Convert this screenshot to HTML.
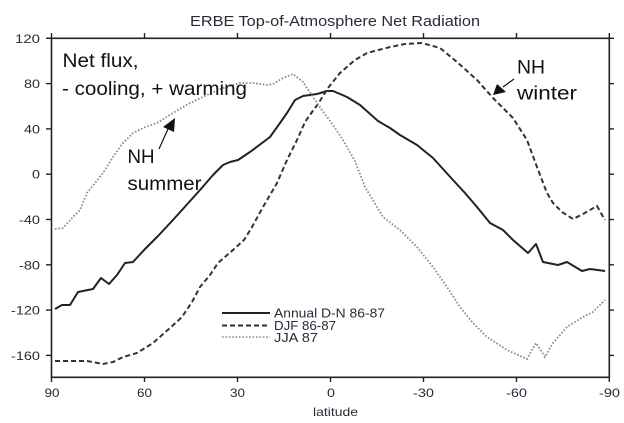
<!DOCTYPE html>
<html><head><meta charset="utf-8"><style>
html,body{margin:0;padding:0;background:#fff;}
svg{display:block;}
</style></head><body>
<svg width="624" height="423" viewBox="0 0 624 423" xmlns="http://www.w3.org/2000/svg">
<rect width="624" height="423" fill="#fff"/>
<g font-family="Liberation Sans, Arial, sans-serif" fill="#2a2a3a">
<text x="190" y="26" font-size="15" textLength="290" lengthAdjust="spacingAndGlyphs">ERBE Top-of-Atmosphere Net Radiation</text>
</g>
<!-- frame -->
<rect x="51.5" y="38.3" width="557.8" height="339" fill="none" stroke="#222" stroke-width="1.6"/>
<g stroke="#222" stroke-width="1.4">
<line x1="46" y1="38.3" x2="51" y2="38.3"/><line x1="46" y1="83.6" x2="51" y2="83.6"/><line x1="46" y1="128.9" x2="51" y2="128.9"/><line x1="46" y1="174.2" x2="51" y2="174.2"/><line x1="46" y1="219.5" x2="51" y2="219.5"/><line x1="46" y1="264.8" x2="51" y2="264.8"/><line x1="46" y1="310.1" x2="51" y2="310.1"/><line x1="46" y1="355.4" x2="51" y2="355.4"/>
<line x1="609" y1="38.3" x2="614" y2="38.3"/><line x1="609" y1="83.6" x2="614" y2="83.6"/><line x1="609" y1="128.9" x2="614" y2="128.9"/><line x1="609" y1="174.2" x2="614" y2="174.2"/><line x1="609" y1="219.5" x2="614" y2="219.5"/><line x1="609" y1="264.8" x2="614" y2="264.8"/><line x1="609" y1="310.1" x2="614" y2="310.1"/><line x1="609" y1="355.4" x2="614" y2="355.4"/>
<line x1="51.5" y1="33" x2="51.5" y2="38"/><line x1="144.5" y1="33" x2="144.5" y2="38"/><line x1="237.5" y1="33" x2="237.5" y2="38"/><line x1="330.5" y1="33" x2="330.5" y2="38"/><line x1="423.5" y1="33" x2="423.5" y2="38"/><line x1="516.5" y1="33" x2="516.5" y2="38"/><line x1="609.3" y1="33" x2="609.3" y2="38"/>
<line x1="51.5" y1="377" x2="51.5" y2="382"/><line x1="144.5" y1="377" x2="144.5" y2="382"/><line x1="237.5" y1="377" x2="237.5" y2="382"/><line x1="330.5" y1="377" x2="330.5" y2="382"/><line x1="423.5" y1="377" x2="423.5" y2="382"/><line x1="516.5" y1="377" x2="516.5" y2="382"/><line x1="609.3" y1="377" x2="609.3" y2="382"/>
</g>
<g font-family="Liberation Sans, Arial, sans-serif" font-size="12" fill="#2a2a3a">
<text x="15" y="42.8" textLength="25" lengthAdjust="spacingAndGlyphs">120</text>
<text x="24" y="88.1" textLength="16" lengthAdjust="spacingAndGlyphs">80</text>
<text x="24" y="133.4" textLength="16" lengthAdjust="spacingAndGlyphs">40</text>
<text x="32" y="178.7" textLength="8" lengthAdjust="spacingAndGlyphs">0</text>
<text x="19" y="224" textLength="21" lengthAdjust="spacingAndGlyphs">-40</text>
<text x="19" y="269.3" textLength="21" lengthAdjust="spacingAndGlyphs">-80</text>
<text x="11" y="314.6" textLength="29" lengthAdjust="spacingAndGlyphs">-120</text>
<text x="11" y="359.9" textLength="29" lengthAdjust="spacingAndGlyphs">-160</text>
<text x="44.5" y="397" textLength="15" lengthAdjust="spacingAndGlyphs">90</text>
<text x="137" y="397" textLength="15" lengthAdjust="spacingAndGlyphs">60</text>
<text x="230" y="397" textLength="15" lengthAdjust="spacingAndGlyphs">30</text>
<text x="327" y="397" textLength="8" lengthAdjust="spacingAndGlyphs">0</text>
<text x="413" y="397" textLength="21" lengthAdjust="spacingAndGlyphs">-30</text>
<text x="506" y="397" textLength="21" lengthAdjust="spacingAndGlyphs">-60</text>
<text x="599" y="397" textLength="21" lengthAdjust="spacingAndGlyphs">-90</text>
<text x="313" y="416" textLength="45" lengthAdjust="spacingAndGlyphs">latitude</text>
</g>
<!-- series -->
<polyline fill="none" stroke="#222" stroke-width="2" stroke-linejoin="round" points="55,309 62,305 70,305 78,292 93,289 101,278 109,284 117,275 125,263 133,262 145,249 158,236 172,221 182,210 200,190 213,175 223,165 230,162 238,160 250,152 270,137 280,123 287,113 295,100 303,96 317,94 327,91 333,91 347,97 360,105 378,121 390,128 400,135 417,145 433,158 453,180 465,193 477,207 490,223 503,230 513,240 528,253 536,244 543,262 558,265 567,262 582,271 590,269 605,271"/>
<polyline fill="none" stroke="#333" stroke-width="2" stroke-dasharray="5 3" points="55,361 87,361 103,364 113,362 123,357 137,353 153,343 170,328 182,317 192,302 200,287 210,275 218,263 233,250 244,240 252,227 263,207 277,183 287,160 297,140 305,122 312,112 318,104 328,88 340,73 355,60 367,53 390,47 405,44 422,43 440,48 457,62 477,80 493,98 513,118 527,140 537,167 547,193 553,203 562,212 573,219 583,214 597,206 605,220"/>
<polyline fill="none" stroke="#8a8a8a" stroke-width="1.8" stroke-dasharray="1.6 1.8" points="55,229 63,228 73,217 80,210 87,193 95,183 103,173 113,157 123,143 133,133 143,128 157,123 173,113 190,103 207,95 220,89 240,83 253,83 267,85 273,84 283,78 293,74 303,82 313,97 322,110 333,125 343,140 355,161 365,187 383,217 400,230 417,247 433,267 447,287 460,307 473,323 487,337 507,350 527,359 536,343 545,357 553,343 567,327 583,317 593,312 605,300"/>
<!-- legend -->
<line x1="222" y1="313" x2="270" y2="313" stroke="#222" stroke-width="2"/>
<line x1="222" y1="325.5" x2="270" y2="325.5" stroke="#333" stroke-width="2" stroke-dasharray="5 3"/>
<line x1="222" y1="337" x2="270" y2="337" stroke="#8a8a8a" stroke-width="1.6" stroke-dasharray="1.6 1.8"/>
<g font-family="Liberation Sans, Arial, sans-serif" font-size="12.5" fill="#2a2a3a">
<text x="274" y="317.5" textLength="111" lengthAdjust="spacingAndGlyphs">Annual D-N 86-87</text>
<text x="274" y="330" textLength="62" lengthAdjust="spacingAndGlyphs">DJF 86-87</text>
<text x="274" y="342" textLength="44" lengthAdjust="spacingAndGlyphs">JJA 87</text>
</g>
<!-- annotations -->
<g font-family="Liberation Sans, Arial, sans-serif" font-size="19.5" fill="#111">
<text x="62.5" y="67" textLength="76" lengthAdjust="spacingAndGlyphs">Net flux,</text>
<text x="62" y="95" textLength="185" lengthAdjust="spacingAndGlyphs">- cooling, + warming</text>
<text x="127.5" y="163" textLength="27" lengthAdjust="spacingAndGlyphs">NH</text>
<text x="127.5" y="190" textLength="74" lengthAdjust="spacingAndGlyphs">summer</text>
<text x="517" y="73.3" textLength="28" lengthAdjust="spacingAndGlyphs">NH</text>
<text x="517" y="99.5" textLength="60" lengthAdjust="spacingAndGlyphs">winter</text>
</g>
<g stroke="#111" stroke-width="1.2">
<line x1="159" y1="149" x2="168" y2="129"/>
<line x1="514" y1="79" x2="503" y2="87"/>
</g>
<polygon points="175,118 163,127 174,132" fill="#111"/>
<polygon points="493,95 497,84 506,92" fill="#111"/>
</svg>
</body></html>
